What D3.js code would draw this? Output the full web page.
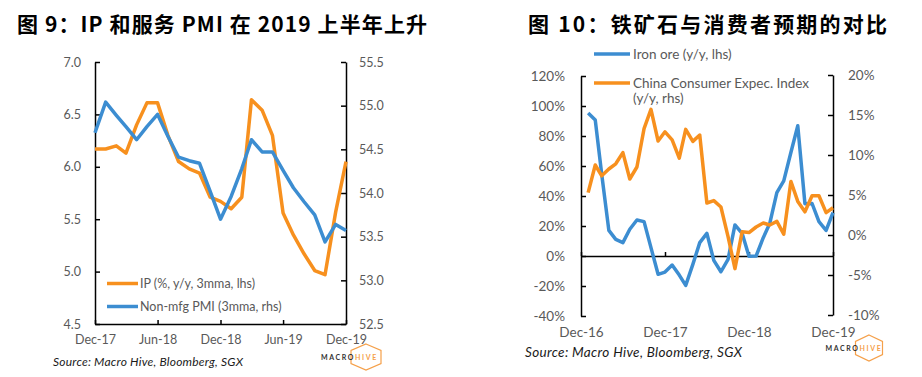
<!DOCTYPE html>
<html>
<head>
<meta charset="utf-8">
<script src="https://cdn.jsdelivr.net/npm/d3@7"></script>
<style>
  html, body { margin: 0; padding: 0; background: #fff; }
  svg { display: block; }
  .tick text { fill: #595959; font-family: Lato, "Open Sans", sans-serif; }
  .domain, .tick line { stroke: #000; stroke-width: 1.5px; }
</style>
</head>
<body>
<svg id="chart" width="922" height="377"></svg>
<script>
// ---------- DATA ----------
// Figure 9: monthly, Dec-17 .. Dec-19
const months9 = ["2017-12","2018-01","2018-02","2018-03","2018-04","2018-05","2018-06","2018-07","2018-08","2018-09","2018-10","2018-11","2018-12",
                 "2019-01","2019-02","2019-03","2019-04","2019-05","2019-06","2019-07","2019-08","2019-09","2019-10","2019-11","2019-12"];
const ipValues = [6.17,6.17,6.20,6.13,6.40,6.61,6.61,6.30,6.05,5.98,5.94,5.71,5.67,5.60,5.71,6.64,6.54,6.30,5.56,5.35,5.17,5.01,4.97,5.57,6.05];
const pmiValues = [54.69,55.04,54.89,54.76,54.61,54.76,54.90,54.65,54.41,54.37,54.34,54.02,53.70,53.96,54.28,54.61,54.47,54.47,54.26,54.06,53.90,53.75,53.44,53.64,53.57];
const leftTicks9 = [4.5,5.0,5.5,6.0,6.5,7.0];
const rightTicks9 = [52.5,53.0,53.5,54.0,54.5,55.0,55.5];
const xTicks9 = ["2017-12","2018-06","2018-12","2019-06","2019-12"];
const legend9 = ["IP (%, y/y, 3mma, lhs)", "Non-mfg PMI (3mma, rhs)"];

// Figure 10: monthly, Jan-17 .. Dec-19
const months10 = ["2017-01","2017-02","2017-03","2017-04","2017-05","2017-06","2017-07","2017-08","2017-09","2017-10","2017-11","2017-12",
                  "2018-01","2018-02","2018-03","2018-04","2018-05","2018-06","2018-07","2018-08","2018-09","2018-10","2018-11","2018-12",
                  "2019-01","2019-02","2019-03","2019-04","2019-05","2019-06","2019-07","2019-08","2019-09","2019-10","2019-11","2019-12"];
const ironOre = [95.3,90.6,54.5,17.1,11.1,8.9,17.8,24.0,22.9,5.6,-12.2,-10.7,-6.0,-12.7,-19.6,-5.6,8.9,15.1,-2.9,-10.5,-2.2,20.7,15.1,-0.2,
                 0.0,12.2,21.6,42.3,50.1,69.0,86.8,34.9,35.0,22.9,17.1,28.9];
const consumerExp = [5.3,8.75,7.4,8.25,8.9,10.3,7.0,8.5,13.3,15.7,11.75,12.9,11.9,9.6,13.2,11.7,12.5,4.0,4.3,3.5,-0.2,-4.2,0.4,0.3,
                     1.0,1.5,1.25,1.7,0.1,6.7,4.2,2.9,4.9,4.9,2.8,3.4];
const leftTicks10 = [-40,-20,0,20,40,60,80,100,120];
const rightTicks10 = [-10,-5,0,5,10,15,20];
const xTicks10 = ["2016-12","2017-12","2018-12","2019-12"];
const legend10 = ["Iron ore (y/y, lhs)", "China Consumer Expec. Index", "(y/y, rhs)"];

const titles = ["图 9：IP 和服务 PMI 在 2019 上半年上升", "图 10：铁矿石与消费者预期的对比"];
const sourceText = "Source: Macro Hive, Bloomberg, SGX";

// ---------- STYLE ----------
const ORANGE = "#F7901E";
const BLUE = "#3C8DD1";
const parse = d3.timeParse("%Y-%m");
const fmtMonth = d3.timeFormat("%b-%y");

const svg = d3.select("#chart");

// Titles
const titleFont = '"Noto Sans CJK SC", "Noto Sans", sans-serif';
svg.append("text").attr("x", 17).attr("y", 32).text(titles[0])
  .attr("font-family", titleFont).attr("font-weight", 700).attr("font-size", 21).attr("fill", "#000")
  .attr("textLength", 410);
svg.append("text").attr("x", 528).attr("y", 32).text(titles[1])
  .attr("font-family", titleFont).attr("font-weight", 700).attr("font-size", 21).attr("fill", "#000")
  .attr("textLength", 359);

// ---------- FIGURE 9 ----------
{
  const g = svg.append("g");
  const x = d3.scaleTime().domain([parse("2017-12"), parse("2019-12")]).range([95, 346]);
  const yL = d3.scaleLinear().domain([4.5, 7.0]).range([324, 62]);
  const yR = d3.scaleLinear().domain([52.5, 55.5]).range([324, 62]);

  const fs = 12.5;
  const ax = g.append("g").attr("transform", "translate(0,324)")
    .call(d3.axisBottom(x).tickValues(xTicks9.map(parse)).tickFormat(fmtMonth).tickSizeInner(-4).tickSizeOuter(0).tickPadding(11));
  const al = g.append("g").attr("transform", "translate(95,0)")
    .call(d3.axisLeft(yL).tickValues(leftTicks9).tickFormat(d3.format(".1f")).tickSizeInner(-5).tickSizeOuter(0).tickPadding(14));
  const ar = g.append("g").attr("transform", "translate(346,0)")
    .call(d3.axisRight(yR).tickValues(rightTicks9).tickFormat(d3.format(".1f")).tickSizeInner(-5).tickSizeOuter(0).tickPadding(13));
  [ax, al, ar].forEach(a => a.selectAll("text").attr("font-size", fs));

  const dates = months9.map(parse);
  const lineL = d3.line().x((d, i) => x(dates[i])).y(d => yL(d));
  const lineR = d3.line().x((d, i) => x(dates[i])).y(d => yR(d));
  g.append("path").datum(ipValues).attr("d", lineL).attr("fill", "none")
    .attr("stroke", ORANGE).attr("stroke-width", 3.5).attr("stroke-linejoin", "round");
  g.append("path").datum(pmiValues).attr("d", lineR).attr("fill", "none")
    .attr("stroke", BLUE).attr("stroke-width", 3.5).attr("stroke-linejoin", "round");

  // legend
  const lg = g.append("g").attr("font-family", 'Lato, "Open Sans", sans-serif').attr("font-size", 12.5).attr("fill", "#595959");
  [[ORANGE, 283.5, legend9[0]], [BLUE, 306.5, legend9[1]]].forEach(([c, yy, t]) => {
    lg.append("line").attr("x1", 107).attr("x2", 138).attr("y1", yy).attr("y2", yy)
      .attr("stroke", c).attr("stroke-width", 3.5);
    lg.append("text").attr("x", 140).attr("y", yy + 4.5).text(t);
  });

  svg.append("text").attr("x", 53).attr("y", 366).text(sourceText)
    .attr("font-family", 'Lato, "Open Sans", sans-serif').attr("font-style", "italic")
    .attr("font-size", 12).attr("fill", "#1a1a1a").attr("textLength", 190);
}

// ---------- FIGURE 10 ----------
{
  const g = svg.append("g");
  const x = d3.scaleTime().domain([parse("2016-12"), parse("2019-12")]).range([581, 833]);
  const yL = d3.scaleLinear().domain([-40, 120]).range([316, 76]);
  const yR = d3.scaleLinear().domain([-10, 20]).range([315, 75]);
  const fs = 13.5;
  const pct = d => d + "%";

  const al = g.append("g").attr("transform", "translate(581,0)")
    .call(d3.axisLeft(yL).tickValues(leftTicks10).tickFormat(pct).tickSizeInner(-5).tickSizeOuter(0).tickPadding(16));
  const ar = g.append("g").attr("transform", "translate(833,0)")
    .call(d3.axisRight(yR).tickValues(rightTicks10).tickFormat(pct).tickSizeInner(-5).tickSizeOuter(0).tickPadding(15));
  // zero line with ticks
  g.append("g").attr("transform", `translate(0,${yL(0)})`)
    .call(d3.axisBottom(x).tickValues(xTicks10.map(parse)).tickFormat("").tickSizeInner(-4).tickSizeOuter(0));
  // labels at bottom
  const lbl = g.append("g").attr("transform", "translate(0,316)")
    .call(d3.axisBottom(x).tickValues(xTicks10.map(parse)).tickFormat(fmtMonth).tickSize(0).tickPadding(11));
  lbl.select(".domain").remove();
  [al, ar, lbl].forEach(a => a.selectAll("text").attr("font-size", fs));

  const dates = months10.map(parse);
  const lineL = d3.line().x((d, i) => x(dates[i])).y(d => yL(d));
  const lineR = d3.line().x((d, i) => x(dates[i])).y(d => yR(d));
  g.append("path").datum(ironOre).attr("d", lineL).attr("fill", "none")
    .attr("stroke", BLUE).attr("stroke-width", 3.5).attr("stroke-linejoin", "round");
  g.append("path").datum(consumerExp).attr("d", lineR).attr("fill", "none")
    .attr("stroke", ORANGE).attr("stroke-width", 3.5).attr("stroke-linejoin", "round");

  const lg = g.append("g").attr("font-family", 'Lato, "Open Sans", sans-serif').attr("font-size", 13.5).attr("fill", "#595959");
  lg.append("line").attr("x1", 594).attr("x2", 630).attr("y1", 54).attr("y2", 54).attr("stroke", BLUE).attr("stroke-width", 3.5);
  lg.append("text").attr("x", 633).attr("y", 58.5).text(legend10[0]);
  lg.append("line").attr("x1", 594).attr("x2", 630).attr("y1", 83).attr("y2", 83).attr("stroke", ORANGE).attr("stroke-width", 3.5);
  lg.append("text").attr("x", 633).attr("y", 87.5).text(legend10[1]);
  lg.append("text").attr("x", 633).attr("y", 103).text(legend10[2]);

  svg.append("text").attr("x", 525).attr("y", 357).text(sourceText)
    .attr("font-family", 'Lato, "Open Sans", sans-serif').attr("font-style", "italic")
    .attr("font-size", 13.5).attr("fill", "#1a1a1a").attr("textLength", 217);
}

// ---------- LOGOS ----------
function logo(cx, cy, w, h) {
  const g = svg.append("g");
  const hx = cx, hw = w / 2, hh = h / 2;
  const pts = [[hx, cy - hh], [hx + hw, cy - hh / 2], [hx + hw, cy + hh / 2], [hx, cy + hh], [hx - hw, cy + hh / 2], [hx - hw, cy - hh / 2]];
  g.append("polygon").attr("points", pts.map(p => p.join(",")).join(" "))
    .attr("fill", "none").attr("stroke", "#F5A04A").attr("stroke-width", 1.2);
  const t = g.append("text").attr("y", cy + 2.5).attr("font-family", 'Lato, sans-serif').attr("font-weight", 700)
    .attr("font-size", 7).attr("letter-spacing", 1.6);
  t.append("tspan").attr("x", cx - w / 2 - 30).attr("fill", "#333").text("MACRO");
  t.append("tspan").attr("fill", "#F5A04A").text("HIVE");
}
logo(366, 357, 30, 26);
logo(869, 348, 27, 26);
</script>
</body>
</html>
